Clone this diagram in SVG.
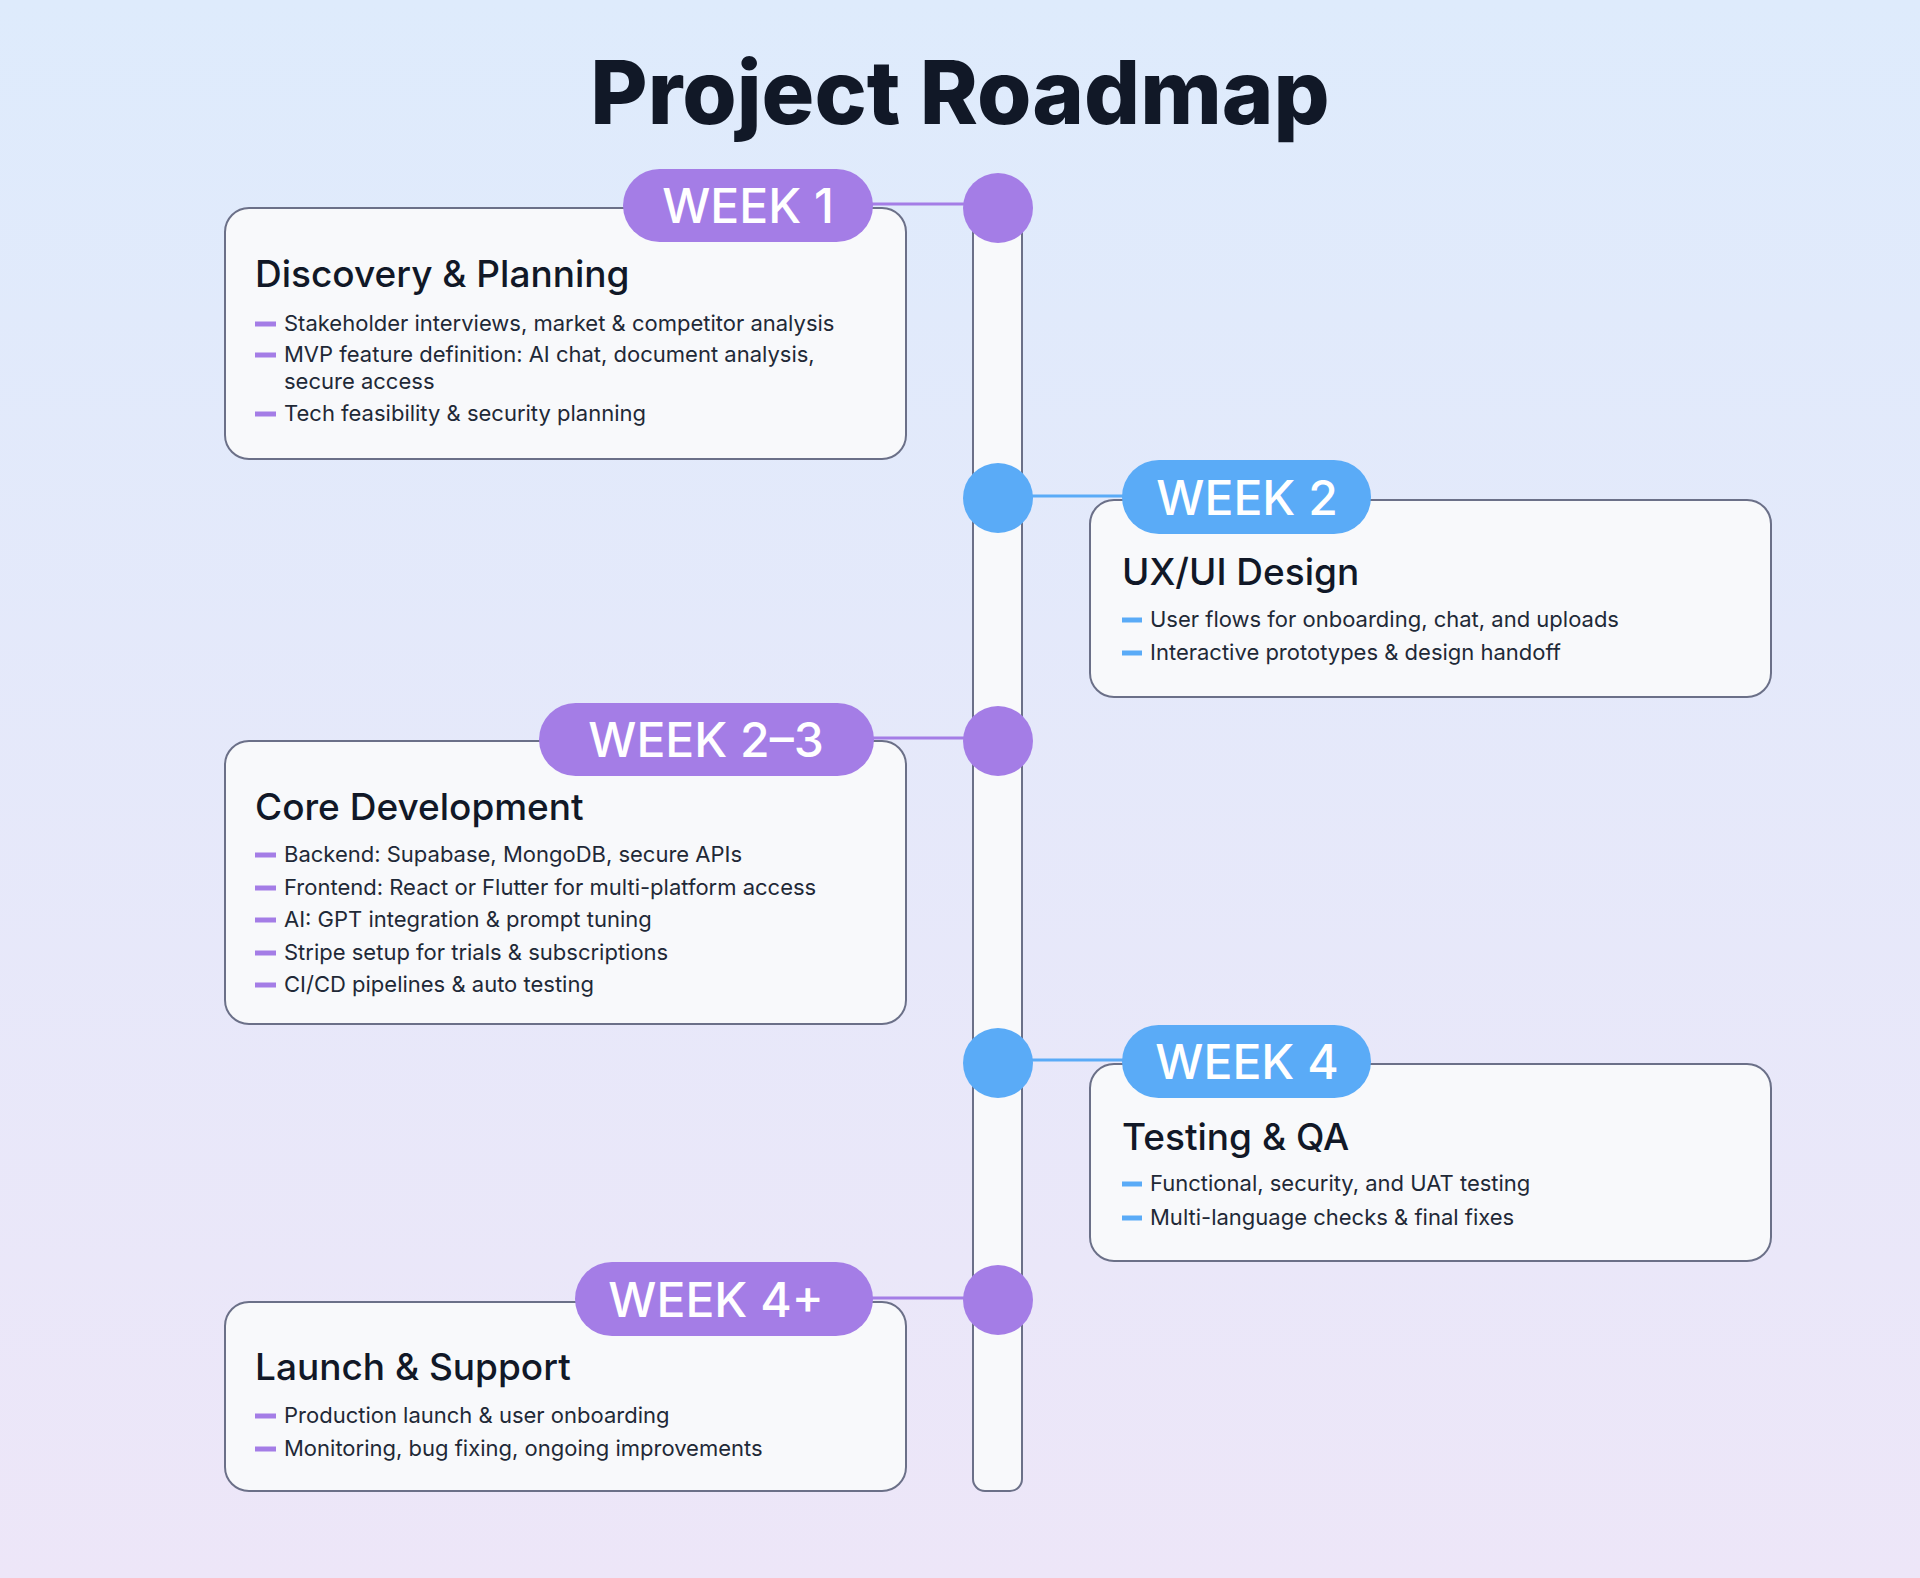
<svg xmlns="http://www.w3.org/2000/svg" width="1920" height="1578" viewBox="0 0 1920 1578">
<defs>
<linearGradient id="bg" x1="0" y1="0" x2="0" y2="1"><stop offset="0" stop-color="#deebfc"/><stop offset="1" stop-color="#ede6f8"/></linearGradient>
<style>
.card{fill:#f8f9fb;stroke:#6b7088;stroke-width:2}
.t{font-family:Inter,"Noto Sans",sans-serif;fill:#111827}
.title{font-size:37px;font-weight:500}
.b{font-size:22px;fill:#1f2937}
.wk{font-family:Inter,"Noto Sans",sans-serif;font-size:48px;font-weight:500;fill:#fff;text-anchor:middle}
.p{fill:#a47de6}.bl{fill:#5aabf7}
.dp{stroke:#a47de6;stroke-width:5}.db{stroke:#5aabf7;stroke-width:5}
</style>
</defs>
<rect width="1920" height="1578" fill="url(#bg)"/>
<text x="960" y="124" text-anchor="middle" class="t" font-size="88" font-weight="800">Project Roadmap</text>
<rect x="973" y="208" width="49" height="1283" rx="12" fill="#f8f9fb" stroke="#6b7088" stroke-width="2"/>
<g id="connectors" stroke-width="3">
<line x1="870" y1="204" x2="968" y2="204" stroke="#a47de6"/>
<line x1="1030" y1="496" x2="1125" y2="496" stroke="#5aabf7"/>
<line x1="870" y1="738" x2="968" y2="738" stroke="#a47de6"/>
<line x1="1030" y1="1060" x2="1125" y2="1060" stroke="#5aabf7"/>
<line x1="870" y1="1298" x2="968" y2="1298" stroke="#a47de6"/>
</g>
<g id="dots">
<circle cx="998" cy="208" r="35" class="p"/>
<circle cx="998" cy="498" r="35" class="bl"/>
<circle cx="998" cy="741" r="35" class="p"/>
<circle cx="998" cy="1063" r="35" class="bl"/>
<circle cx="998" cy="1300" r="35" class="p"/>
</g>
<g id="n1">
<rect x="225" y="208" width="681" height="251" rx="24" class="card"/>
<rect x="623" y="169" width="250" height="73" rx="36.5" class="p"/>
<text x="748" y="223" class="wk">WEEK 1</text>
<text x="255" y="287" class="t title">Discovery &amp; Planning</text>
<g class="dp"><line x1="255" y1="324" x2="276" y2="324"/><line x1="255" y1="355" x2="276" y2="355"/><line x1="255" y1="414" x2="276" y2="414"/></g>
<text class="t b" x="284" y="331">Stakeholder interviews, market &amp; competitor analysis</text>
<text class="t b" x="284" y="362">MVP feature definition: AI chat, document analysis,</text>
<text class="t b" x="284" y="389">secure access</text>
<text class="t b" x="284" y="421">Tech feasibility &amp; security planning</text>
</g>
<g id="n2">
<rect x="1090" y="500" width="681" height="197" rx="24" class="card"/>
<rect x="1122" y="460" width="249" height="74" rx="37" class="bl"/>
<text x="1247" y="515" class="wk">WEEK 2</text>
<text x="1122" y="585" class="t title">UX/UI Design</text>
<g class="db"><line x1="1122" y1="620" x2="1142" y2="620"/><line x1="1122" y1="653" x2="1142" y2="653"/></g>
<text class="t b" x="1150" y="627">User flows for onboarding, chat, and uploads</text>
<text class="t b" x="1150" y="660">Interactive prototypes &amp; design handoff</text>
</g>
<g id="n3">
<rect x="225" y="741" width="681" height="283" rx="24" class="card"/>
<rect x="539" y="703" width="335" height="73" rx="36.5" class="p"/>
<text x="706" y="757" class="wk">WEEK 2–3</text>
<text x="255" y="820" class="t title">Core Development</text>
<g class="dp"><line x1="255" y1="855" x2="276" y2="855"/><line x1="255" y1="888" x2="276" y2="888"/><line x1="255" y1="920" x2="276" y2="920"/><line x1="255" y1="953" x2="276" y2="953"/><line x1="255" y1="985" x2="276" y2="985"/></g>
<text class="t b" x="284" y="862">Backend: Supabase, MongoDB, secure APIs</text>
<text class="t b" x="284" y="895">Frontend: React or Flutter for multi-platform access</text>
<text class="t b" x="284" y="927">AI: GPT integration &amp; prompt tuning</text>
<text class="t b" x="284" y="960">Stripe setup for trials &amp; subscriptions</text>
<text class="t b" x="284" y="992">CI/CD pipelines &amp; auto testing</text>
</g>
<g id="n4">
<rect x="1090" y="1064" width="681" height="197" rx="24" class="card"/>
<rect x="1122" y="1025" width="249" height="73" rx="36.5" class="bl"/>
<text x="1247" y="1079" class="wk">WEEK 4</text>
<text x="1122" y="1150" class="t title">Testing &amp; QA</text>
<g class="db"><line x1="1122" y1="1184" x2="1142" y2="1184"/><line x1="1122" y1="1218" x2="1142" y2="1218"/></g>
<text class="t b" x="1150" y="1191">Functional, security, and UAT testing</text>
<text class="t b" x="1150" y="1225">Multi-language checks &amp; final fixes</text>
</g>
<g id="n5">
<rect x="225" y="1302" width="681" height="189" rx="24" class="card"/>
<rect x="575" y="1262" width="298" height="74" rx="37" class="p"/>
<text x="716" y="1317" class="wk">WEEK 4+</text>
<text x="255" y="1380" class="t title">Launch &amp; Support</text>
<g class="dp"><line x1="255" y1="1416" x2="276" y2="1416"/><line x1="255" y1="1449" x2="276" y2="1449"/></g>
<text class="t b" x="284" y="1423">Production launch &amp; user onboarding</text>
<text class="t b" x="284" y="1456">Monitoring, bug fixing, ongoing improvements</text>
</g>
</svg>
